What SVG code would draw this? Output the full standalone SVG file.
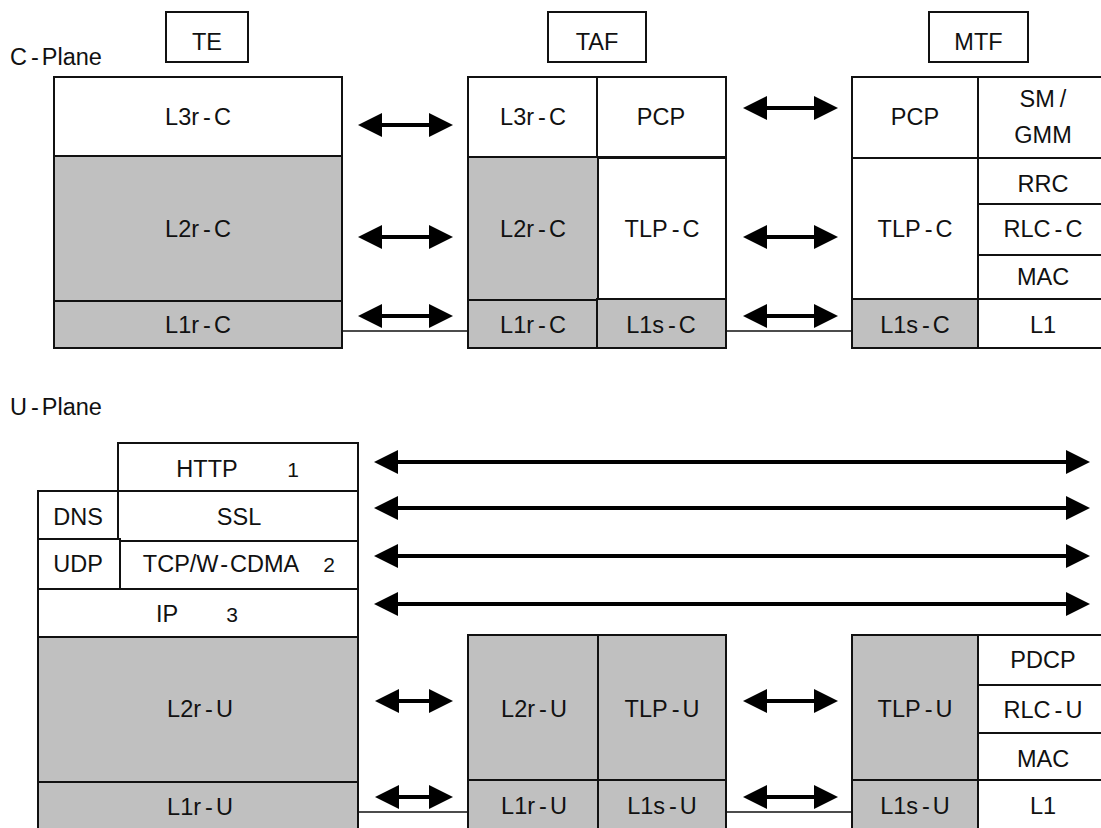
<svg xmlns="http://www.w3.org/2000/svg" width="1101" height="828" viewBox="0 0 1101 828">
<style>
  .w { fill: #ffffff; stroke: #111111; stroke-width: 2; }
  .g { fill: #c0c0c0; stroke: #111111; stroke-width: 2; }
  text { font-family: "Liberation Sans", Arial, sans-serif; font-size: 23.5px; fill: #111111; text-anchor: middle; }
  text.lab { text-anchor: start; }
  text.n { font-family: "Liberation Sans Narrow", "Liberation Sans", sans-serif; font-size: 21px; }
  .arr { stroke: #000000; stroke-width: 4; fill: none; marker-start: url(#ah); marker-end: url(#ah); }
  .thin { stroke: #111111; stroke-width: 1.5; fill: none; }
</style>
<defs>
  <marker id="ah" markerUnits="userSpaceOnUse" markerWidth="24" markerHeight="24" refX="12" refY="12" orient="auto-start-reverse" viewBox="0 0 24 24">
    <path d="M0,0 L24,12 L0,24 z" fill="#000000"/>
  </marker>
</defs>
<rect x="0" y="0" width="1101" height="828" fill="#ffffff"/>

<!-- Plane labels -->
<text class="lab" x="10" y="65">C<tspan dx="4">-</tspan><tspan dx="3">Plane</tspan></text>
<text class="lab" x="10" y="415">U<tspan dx="4">-</tspan><tspan dx="3">Plane</tspan></text>

<!-- Entity labels -->
<g id="te-label"><rect class="w" x="166" y="12" width="82" height="50"/><text x="207" y="50">TE</text></g>
<g id="taf-label"><rect class="w" x="548" y="12" width="98" height="50"/><text x="597" y="50">TAF</text></g>
<g id="mtf-label"><rect class="w" x="929" y="12" width="99" height="50"/><text x="978.5" y="50">MTF</text></g>

<!-- Connectors -->
<g id="connectors">
  <line class="thin" x1="340" y1="331" x2="468" y2="331"/>
  <line class="thin" x1="725" y1="331" x2="852" y2="331"/>
  <line class="thin" x1="357" y1="812" x2="468" y2="812"/>
  <line class="thin" x1="725" y1="812" x2="852" y2="812"/>

  <line class="arr" x1="370" y1="125" x2="441" y2="125"/>
  <line class="arr" x1="370" y1="237" x2="441" y2="237"/>
  <line class="arr" x1="370" y1="316" x2="441" y2="316"/>
  <line class="arr" x1="755" y1="108" x2="826" y2="108"/>
  <line class="arr" x1="755" y1="237" x2="826" y2="237"/>
  <line class="arr" x1="755" y1="316" x2="826" y2="316"/>

  <line class="arr" x1="386" y1="462" x2="1078" y2="462"/>
  <line class="arr" x1="386" y1="508" x2="1078" y2="508"/>
  <line class="arr" x1="386" y1="556" x2="1078" y2="556"/>
  <line class="arr" x1="386" y1="604" x2="1078" y2="604"/>

  <line class="arr" x1="387" y1="701" x2="441" y2="701"/>
  <line class="arr" x1="387" y1="797" x2="441" y2="797"/>
  <line class="arr" x1="755" y1="701" x2="826" y2="701"/>
  <line class="arr" x1="755" y1="797" x2="826" y2="797"/>
</g>

<!-- C-plane TE stack -->
<g id="te-l3r-c"><rect class="w" x="54" y="77" width="288" height="79"/><text x="198" y="125">L3r<tspan dx="4">-</tspan><tspan dx="3">C</tspan></text></g>
<g id="te-l2r-c"><rect class="g" x="54" y="156" width="288" height="145"/><text x="198" y="237">L2r<tspan dx="4">-</tspan><tspan dx="3">C</tspan></text></g>
<g id="te-l1r-c"><rect class="g" x="54" y="301" width="288" height="47"/><text x="198" y="333">L1r<tspan dx="4">-</tspan><tspan dx="3">C</tspan></text></g>

<!-- C-plane TAF stack -->
<g id="taf-l3r-c"><rect class="w" x="468" y="77" width="129" height="80"/><text x="533" y="125">L3r<tspan dx="4">-</tspan><tspan dx="3">C</tspan></text></g>
<g id="taf-pcp"><rect class="w" x="597" y="77" width="129" height="80"/><text x="661" y="125">PCP</text></g>
<g id="taf-l2r-c"><rect class="g" x="468" y="157" width="130" height="143"/><text x="533" y="237">L2r<tspan dx="4">-</tspan><tspan dx="3">C</tspan></text></g>
<g id="taf-tlp-c"><rect class="w" x="598" y="158" width="128" height="141"/><text x="662" y="237">TLP<tspan dx="4">-</tspan><tspan dx="3">C</tspan></text></g>
<g id="taf-l1r-c"><rect class="g" x="468" y="300" width="129" height="48"/><text x="533" y="333">L1r<tspan dx="4">-</tspan><tspan dx="3">C</tspan></text></g>
<g id="taf-l1s-c"><rect class="g" x="597" y="299" width="129" height="49"/><text x="661" y="333">L1s<tspan dx="4">-</tspan><tspan dx="3">C</tspan></text></g>

<!-- C-plane MTF stack -->
<g id="mtf-pcp"><rect class="w" x="852" y="77" width="126" height="81"/><text x="915" y="125">PCP</text></g>
<g id="mtf-smgmm"><rect class="w" x="978" y="77" width="130" height="81"/><text x="1043" y="107">SM<tspan dx="5">/</tspan></text><text x="1043" y="143">GMM</text></g>
<g id="mtf-tlp-c"><rect class="w" x="852" y="158" width="126" height="141"/><text x="915" y="237">TLP<tspan dx="4">-</tspan><tspan dx="3">C</tspan></text></g>
<g id="mtf-rrc"><rect class="w" x="978" y="158" width="130" height="46"/><text x="1043" y="192">RRC</text></g>
<g id="mtf-rlc-c"><rect class="w" x="978" y="204" width="130" height="51"/><text x="1043" y="237">RLC<tspan dx="4">-</tspan><tspan dx="3">C</tspan></text></g>
<g id="mtf-mac-c"><rect class="w" x="978" y="255" width="130" height="44"/><text x="1043" y="285">MAC</text></g>
<g id="mtf-l1s-c"><rect class="g" x="852" y="299" width="126" height="49"/><text x="915" y="333">L1s<tspan dx="4">-</tspan><tspan dx="3">C</tspan></text></g>
<g id="mtf-l1-c"><rect class="w" x="978" y="299" width="130" height="49"/><text x="1043" y="333">L1</text></g>

<!-- U-plane TE stack -->
<g id="te-http"><rect class="w" x="118" y="443" width="240" height="48"/><text x="207" y="477">HTTP</text><text class="n" x="293" y="477">1</text></g>
<g id="te-dns"><rect class="w" x="38" y="491" width="80" height="48"/><text x="78" y="525">DNS</text></g>
<g id="te-ssl"><rect class="w" x="118" y="491" width="240" height="50"/><text x="239" y="525">SSL</text></g>
<g id="te-udp"><rect class="w" x="38" y="539" width="82" height="50"/><text x="78" y="572">UDP</text></g>
<g id="te-tcp"><rect class="w" x="120" y="541" width="238" height="48"/><text x="221" y="572">TCP/W<tspan dx="2">-</tspan><tspan dx="2">CDMA</tspan></text><text class="n" x="329" y="572">2</text></g>
<g id="te-ip"><rect class="w" x="38" y="589" width="320" height="48"/><text x="167" y="622">IP</text><text class="n" x="232" y="622">3</text></g>
<g id="te-l2r-u"><rect class="g" x="38" y="637" width="320" height="145"/><text x="200" y="717">L2r<tspan dx="4">-</tspan><tspan dx="3">U</tspan></text></g>
<g id="te-l1r-u"><rect class="g" x="38" y="782" width="320" height="50"/><text x="200" y="815">L1r<tspan dx="4">-</tspan><tspan dx="3">U</tspan></text></g>

<!-- U-plane TAF stack -->
<g id="taf-l2r-u"><rect class="g" x="468" y="635" width="130" height="145"/><text x="534" y="717">L2r<tspan dx="4">-</tspan><tspan dx="3">U</tspan></text></g>
<g id="taf-tlp-u"><rect class="g" x="598" y="635" width="128" height="145"/><text x="662" y="717">TLP<tspan dx="4">-</tspan><tspan dx="3">U</tspan></text></g>
<g id="taf-l1r-u"><rect class="g" x="468" y="780" width="130" height="52"/><text x="534" y="814">L1r<tspan dx="4">-</tspan><tspan dx="3">U</tspan></text></g>
<g id="taf-l1s-u"><rect class="g" x="598" y="780" width="128" height="52"/><text x="662" y="814">L1s<tspan dx="4">-</tspan><tspan dx="3">U</tspan></text></g>

<!-- U-plane MTF stack -->
<g id="mtf-tlp-u"><rect class="g" x="852" y="635" width="126" height="145"/><text x="915" y="717">TLP<tspan dx="4">-</tspan><tspan dx="3">U</tspan></text></g>
<g id="mtf-pdcp"><rect class="w" x="978" y="635" width="130" height="50"/><text x="1043" y="668">PDCP</text></g>
<g id="mtf-rlc-u"><rect class="w" x="978" y="685" width="130" height="48"/><text x="1043" y="718">RLC<tspan dx="4">-</tspan><tspan dx="3">U</tspan></text></g>
<g id="mtf-mac-u"><rect class="w" x="978" y="733" width="130" height="47"/><text x="1043" y="767">MAC</text></g>
<g id="mtf-l1s-u"><rect class="g" x="852" y="780" width="126" height="52"/><text x="915" y="814">L1s<tspan dx="4">-</tspan><tspan dx="3">U</tspan></text></g>
<g id="mtf-l1-u"><rect class="w" x="978" y="780" width="130" height="52"/><text x="1043" y="814">L1</text></g>
</svg>
